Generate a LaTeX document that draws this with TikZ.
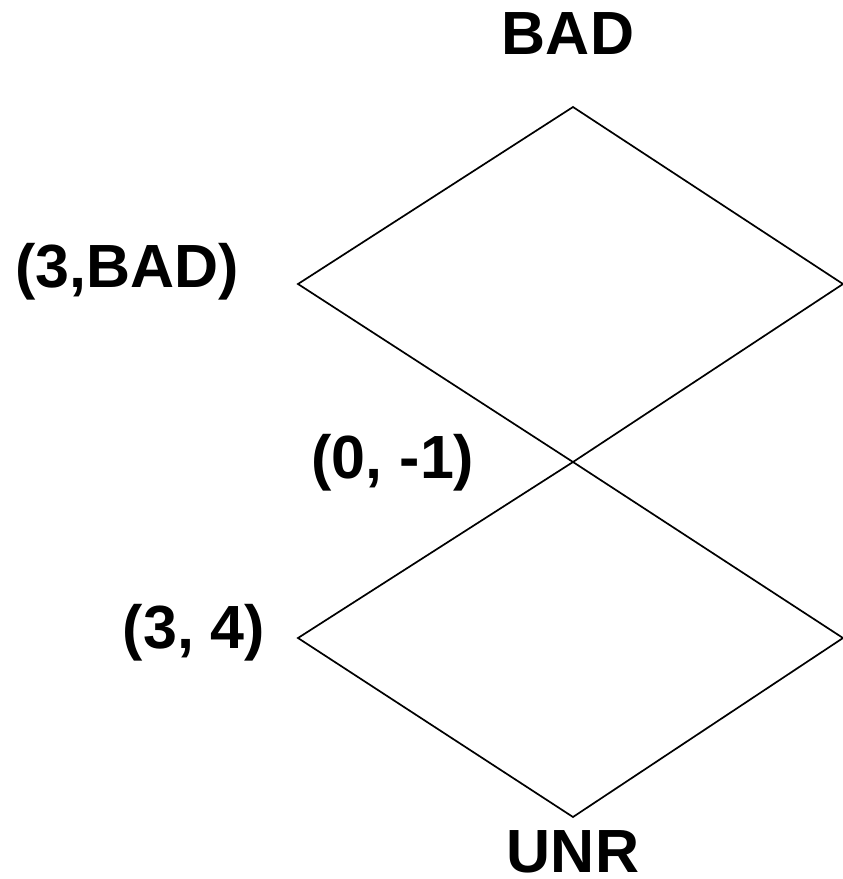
\documentclass[tikz,border=0pt]{standalone}
\usepackage{fontspec}
\setmainfont{Liberation Sans}
\begin{document}
\begin{tikzpicture}[x=1pt,y=-1pt,
  lbl/.style={font=\fontsize{61}{63}\selectfont\bfseries, inner sep=0pt, anchor=base},
  edge/.style={line width=1.7pt, line join=miter}]
\useasboundingbox (0,0) rectangle (843,879);
% vertices of the two stacked diamonds
\coordinate (top) at (573,107);
\coordinate (ul) at (298,284);
\coordinate (ur) at (843,284);
\coordinate (x) at (573,462);
\coordinate (ll) at (298,638);
\coordinate (lr) at (843,638);
\coordinate (bot) at (573,817);
\draw[edge] (top) -- (ul) -- (x) -- (lr) -- (bot) -- (ll) -- (x) -- (ur) -- cycle;
% labels
\node[lbl] (bad) at (568,54) {BAD};
\node[lbl] (l3bad) at (127,287) {(3,BAD)};
\node[lbl] (l0m1) at (393,478) {(0, -1)};
\node[lbl] (l34) at (194,648) {(3, 4)};
\node[lbl] (unr) at (573,872) {UNR};
\end{tikzpicture}
\end{document}
